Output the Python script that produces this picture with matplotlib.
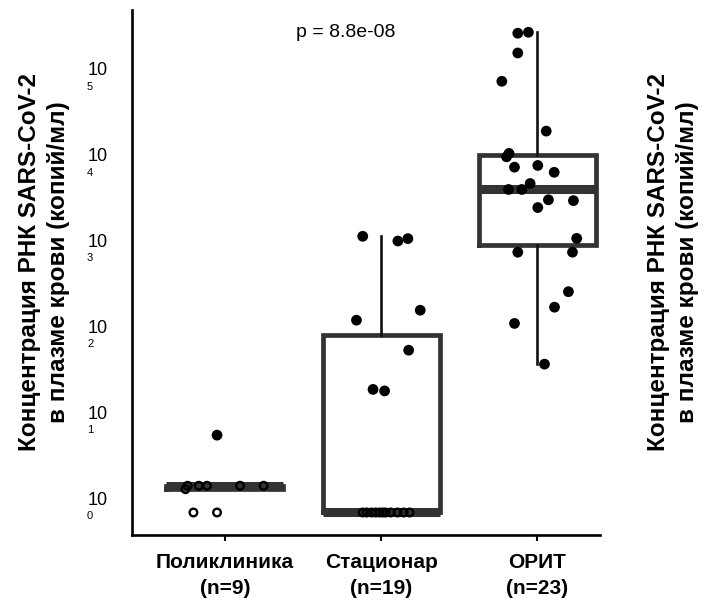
import numpy as np
import matplotlib
matplotlib.use('Agg')
import matplotlib.pyplot as plt
from matplotlib import cbook
from matplotlib.ticker import NullLocator

plt.rcParams['font.family'] = ['Liberation Sans', 'DejaVu Sans']

# ---------------- data ----------------
categories = ['Поликлиника', 'Стационар', 'ОРИТ']
n_labels = ['(n=9)', '(n=19)', '(n=23)']
p_text = 'p = 8.8e-08'

# RNA concentration, copies/ml; "open" marks hollow points
poli_values = [6.6, 1.7, 1.55, 1.7, 1.7, 1.7, 1.7, 0.83, 0.83]
poli_open = [False, True, True, True, True, True, True, True, True]
poli_jitter = [-0.050, -0.238, -0.252, -0.167, -0.114, 0.097, 0.248, -0.201, -0.050]

stac_values = [1365, 1202, 1282, 188, 144, 64.4, 22.5, 21.6,
               0.83, 0.83, 0.83, 0.83, 0.83, 0.83, 0.83, 0.83, 0.83, 0.83, 0.83]
stac_open = [False] * 8 + [True] * 11
stac_jitter = [-0.118, 0.107, 0.171, 0.250, -0.158, 0.176, -0.052, 0.022,
               -0.118, -0.093, -0.061, -0.035, -0.010, 0.010, 0.029, 0.061, 0.105, 0.144, 0.182]

orit_values = [316000, 324000, 186000, 87100, 22900, 11500, 12600, 8710, 9120,
               7590, 5620, 4790, 4790, 3630, 3550, 2950, 1290, 891, 891, 309,
               204, 132, 44.3]
orit_open = [False] * 23
orit_jitter = [-0.126, -0.058, -0.126, -0.228, 0.056, -0.198, -0.182, -0.147, 0.002,
               0.107, -0.047, -0.185, -0.100, 0.070, 0.230, 0.002, 0.251, -0.126,
               0.224, 0.198, 0.109, -0.147, 0.045]

groups = [(poli_values, poli_open, poli_jitter),
          (stac_values, stac_open, stac_jitter),
          (orit_values, orit_open, orit_jitter)]

# ---------------- figure ----------------
fig = plt.figure(figsize=(7.10, 6.04), dpi=100)
W, H = 710, 604
ax = fig.add_axes([132 / W, 1 - 535 / H, (600 - 132) / W, (535 - 10) / H])

ax.set_yscale('log')
ax.set_ylim(10 ** -0.343, 10 ** 5.77)
ax.set_xlim(-0.594, 2.40)

# box statistics computed on log10 scale
stats_list = []
for vals, _, _ in groups:
    st = cbook.boxplot_stats(np.log10(np.array(vals, dtype=float)), whis=1.5)[0]
    for key in ['med', 'q1', 'q3', 'whislo', 'whishi', 'mean', 'cilo', 'cihi']:
        st[key] = 10 ** st[key]
    st['fliers'] = []
    stats_list.append(st)

box_color = '#333333'
ax.bxp(stats_list, positions=[0, 1, 2], widths=0.75, showfliers=False,
       showcaps=False, manage_ticks=False,
       boxprops=dict(color=box_color, linewidth=3.4, solid_joinstyle='miter'),
       medianprops=dict(color=box_color, linewidth=6.5, solid_capstyle='butt'),
       whiskerprops=dict(color='#111111', linewidth=1.9))

for i, (vals, opn, jit) in enumerate(groups):
    vals = np.array(vals, dtype=float)
    opn = np.array(opn)
    xs = i + np.array(jit)
    ax.scatter(xs[~opn], vals[~opn], s=60, color='black', edgecolors='none', zorder=4)
    ax.scatter(xs[opn], vals[opn], s=30, facecolors='none', edgecolors='black',
               linewidths=1.7, zorder=4)

# axes styling
for side in ['top', 'right']:
    ax.spines[side].set_visible(False)
for side in ['left', 'bottom']:
    ax.spines[side].set_linewidth(1.9)
    ax.spines[side].set_color('black')

ax.yaxis.set_minor_locator(NullLocator())
ax.tick_params(axis='y', which='both', length=0, labelleft=False)
ax.set_xticks([0, 1, 2])
ax.set_xticklabels([f'{c}\n{n}' for c, n in zip(categories, n_labels)],
                   fontsize=15, fontweight='bold', linespacing=1.45)
ax.tick_params(axis='x', length=4.3, width=1.5, pad=9, color='black')

# y tick labels: "10" with exponent below
for k in range(6):
    ax.annotate('10', xy=(0, 10 ** k), xycoords=ax.get_yaxis_transform(),
                xytext=(-44, 5.5), textcoords='offset pixels',
                ha='left', va='center', fontsize=13)
    ax.annotate(str(k), xy=(0, 10 ** k), xycoords=ax.get_yaxis_transform(),
                xytext=(-45, -10.5), textcoords='offset pixels',
                ha='left', va='center', fontsize=8)

ax.text(0.77, 10 ** 5.51, p_text, ha='center', va='center', fontsize=14)

ylab = 'Концентрация РНК SARS-CoV-2\nв плазме крови (копий/мл)'
fig.text(44 / W, 1 - 262 / H, ylab, rotation=90, ha='center', va='center',
         fontsize=17.5, fontweight='bold', multialignment='center', linespacing=1.3)
fig.text(673 / W, 1 - 262 / H, ylab, rotation=90, ha='center', va='center',
         fontsize=17.5, fontweight='bold', multialignment='center', linespacing=1.3)

fig.savefig('out.png', dpi=100)
